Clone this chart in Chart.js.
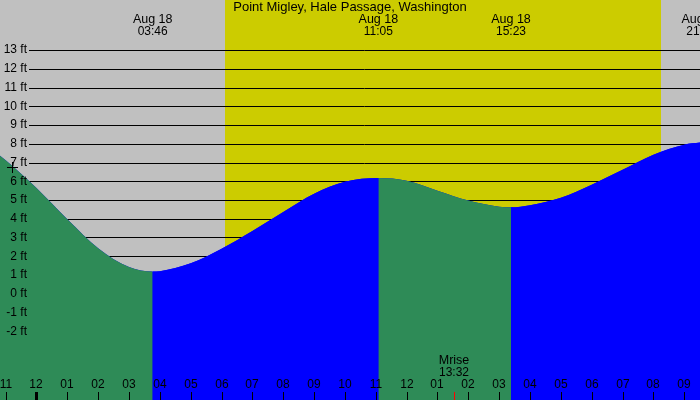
<!DOCTYPE html>
<html>
<head>
<meta charset="utf-8">
<script src="https://cdn.jsdelivr.net/npm/chart.js@4"></script>
<style>
  html, body { margin: 0; padding: 0; background: #c0c0c0; }
  #tide { display: block; }
</style>
</head>
<body>
<canvas id="tide" width="700" height="400"></canvas>
<script>
/* Tide chart - Point Migley, Hale Passage */

const title = "Point Migley, Hale Passage, Washington";
const dayLabel = "Aug 18";

// tide curve, hours since midnight Aug 18 and height in ft
const hours   = [-1.2, -1, 0, 1, 2, 3, 3.767, 4, 5, 6, 7, 8, 9, 10, 11.083, 12, 13, 14, 15, 15.383, 16, 17, 18, 19, 20, 21, 21.55];
const heights = [7.38, 7.12, 5.64, 3.97, 2.43, 1.42, 1.18, 1.2, 1.62, 2.4, 3.35, 4.36, 5.33, 5.97, 6.17, 6.03, 5.5, 4.97, 4.64, 4.61, 4.72, 5.12, 5.82, 6.62, 7.42, 7.95, 8.07];

// highs and lows shown along the top
const extremeHours = [3.767, 11.083, 15.383, 21.55];
const extremeTimes = ["03:46", "11:05", "15:23", "21:33"];

const yTicks = [13, 12, 11, 10, 9, 8, 7, 6, 5, 4, 3, 2, 1, 0, -1, -2];
const hourTicks = [-1, 0, 1, 2, 3, 4, 5, 6, 7, 8, 9, 10, 11, 12, 13, 14, 15, 16, 17, 18, 19, 20, 21];

const sunrise = 6.11, sunset = 20.24;
const moonrise = 13.533, moonriseText = "13:32";

const FAMILY = "'Liberation Sans', Arial, sans-serif";
const FALL = "#2e8b57", RISE = "#0000ff";

function hourLabel(h) {
    let hh = ((h % 12) + 12) % 12;
    if (hh === 0) hh = 12;
    return String(hh).padStart(2, "0");
}

const backdrop = {
    id: "backdrop",
    beforeDraw(chart) {
        const ctx = chart.ctx;
        const x = chart.scales.x;
        ctx.save();
        ctx.fillStyle = "#c0c0c0";
        ctx.fillRect(0, 0, chart.width, chart.height);
        ctx.fillStyle = "#cccc00";
        const x0 = Math.round(x.getPixelForValue(sunrise));
        const x1 = Math.round(x.getPixelForValue(sunset));
        ctx.fillRect(x0, 0, x1 - x0, chart.height);
        ctx.restore();
    },
    beforeDatasetsDraw(chart) {
        const ctx = chart.ctx;
        const y = chart.scales.y;
        ctx.save();
        ctx.strokeStyle = "#000";
        ctx.lineWidth = 1;
        yTicks.forEach(v => {
            const py = Math.round(y.getPixelForValue(v)) + 0.5;
            ctx.beginPath();
            ctx.moveTo(29, py);
            ctx.lineTo(chart.width, py);
            ctx.stroke();
        });
        ctx.restore();
    },
    afterDraw(chart) {
        const ctx = chart.ctx;
        const x = chart.scales.x;
        const y = chart.scales.y;
        ctx.save();
        ctx.fillStyle = "#000";
        ctx.textBaseline = "middle";

        // y labels
        ctx.font = "12px " + FAMILY;
        ctx.textAlign = "right";
        yTicks.forEach(v => ctx.fillText(v + " ft", 27, y.getPixelForValue(v)));

        // title and high/low times
        ctx.textAlign = "center";
        ctx.font = "13px " + FAMILY;
        ctx.fillText(title, 350, 7);
        extremeHours.forEach((h, i) => {
            const px = x.getPixelForValue(h);
            ctx.font = "12.5px " + FAMILY;
            ctx.fillText(dayLabel, px, 20);
            ctx.font = "12px " + FAMILY;
            ctx.fillText(extremeTimes[i], px, 32);
        });

        // hour axis
        ctx.font = "12px " + FAMILY;
        hourTicks.forEach(h => {
            const px = Math.round(x.getPixelForValue(h));
            ctx.fillText(hourLabel(h), px, 385);
            if (h === 0) ctx.fillRect(px - 1, 392, 3, 8);
            else ctx.fillRect(px, 392, 1, 8);
        });

        // moonrise
        const mx = Math.round(x.getPixelForValue(moonrise));
        ctx.font = "12.5px " + FAMILY;
        ctx.fillText("Mrise", mx, 361);
        ctx.font = "12px " + FAMILY;
        ctx.fillText(moonriseText, mx, 373);
        ctx.fillStyle = "#ff0000";
        ctx.fillRect(mx, 392, 1, 8);

        // small cross on the falling curve
        ctx.fillStyle = "#000";
        const cx = Math.round(x.getPixelForValue(-0.79));
        const cy = Math.round(y.getPixelForValue(6.76));
        ctx.fillRect(cx - 5, cy, 11, 1);
        ctx.fillRect(cx, cy - 5, 1, 11);
        ctx.restore();
    }
};

const points = hours.map((h, i) => ({ x: h, y: heights[i] }));

new Chart(document.getElementById("tide"), {
    type: "line",
    data: {
        datasets: [{
            // falling = green, rising = blue
            data: points,
            borderWidth: 0,
            pointRadius: 0,
            fill: "start",
            backgroundColor: FALL,
            cubicInterpolationMode: "monotone",
            segment: {
                backgroundColor: c => c.p1.parsed.y < c.p0.parsed.y ? FALL : RISE,
                borderColor: c => c.p1.parsed.y < c.p0.parsed.y ? FALL : RISE
            }
        }, {
            // underlay so segment seams don't show the background
            data: points,
            borderWidth: 0,
            pointRadius: 0,
            fill: "start",
            backgroundColor: RISE,
            cubicInterpolationMode: "monotone"
        }]
    },
    options: {
        responsive: false,
        animation: false,
        layout: { padding: 0 },
        plugins: { legend: { display: false }, tooltip: { enabled: false } },
        scales: {
            x: { type: "linear", min: -1.183, max: 21.51, display: false },
            y: { min: -5.667, max: 15.667, display: false }
        }
    },
    plugins: [backdrop]
});
</script>
</body>
</html>
